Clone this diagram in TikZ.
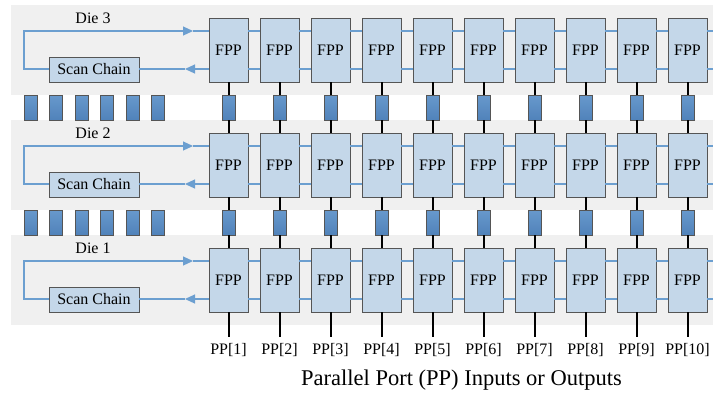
\documentclass[tikz,border=0pt]{standalone}
\usepackage{fontspec}
\setmainfont{Liberation Serif}
\usetikzlibrary{arrows.meta,calc}
\definecolor{diebg}{HTML}{F0F0F0}
\definecolor{fppfill}{HTML}{C4D7E9}
\definecolor{boxedge}{HTML}{555555}
\definecolor{scanblue}{HTML}{6C9FD0}
\definecolor{tsvtop}{HTML}{6899CC}
\definecolor{tsvbot}{HTML}{5082BA}
\tikzset{
  diepanel/.style={fill=diebg,draw=none},
  fppbox/.style={draw=boxedge,line width=0.8pt,fill=fppfill,minimum width=39pt,minimum height=64pt,inner sep=0pt,font=\fontsize{16}{19}\selectfont},
  scanbox/.style={draw=boxedge,line width=0.8pt,fill=fppfill,minimum width=90pt,minimum height=25pt,inner sep=0pt,font=\fontsize{16}{19}\selectfont},
  tsvbox/.style={draw=boxedge,line width=0.8pt,top color=tsvtop,bottom color=tsvbot,minimum width=13pt,minimum height=25pt,inner sep=0pt},
  scanline/.style={draw=scanblue,line width=1.1pt},
  scanarrow/.style={scanline,-{Triangle[length=10pt,width=9pt]}},
  wire/.style={draw=black,line width=2pt},
  lbl/.style={font=\fontsize{16}{19}\selectfont,inner sep=0pt},
}
\begin{document}
\begin{tikzpicture}[x=1pt,y=-1pt]
\useasboundingbox (0,0) rectangle (721,394);
% die panels
\foreach \d/\c in {3/50,2/165,1/280}{
  \fill[diepanel] (11,\c-45) rectangle (713,\c+45);
}
% dies
\foreach \d/\c in {3/50,2/165,1/280}{
  \node[lbl] (die\d) at (93,\c-32) {Die \d};
  \node[scanbox] (sc\d) at (94,\c+19.5) {Scan Chain};
  \foreach \k in {1,...,10}{
    \node[fppbox] (f\d-\k) at ({228.5+51*(\k-1)},\c) {FPP};
  }
  \coordinate (tl\d) at (24,\c-19);
  \coordinate (ta\d) at (193,\c-19);
  \coordinate (ba\d) at (185,\c+19);
  \coordinate (re\d) at (713,\c);
  % scan loop
  \draw[scanarrow] (sc\d.west |- ba\d) -| (tl\d) -- (ta\d);
  \draw[scanline] (ta\d) -- (f\d-1.west |- ta\d);
  \draw[scanarrow] (f\d-1.west |- ba\d) -- (ba\d);
  \draw[scanline] (ba\d) -- (sc\d.east |- ba\d);
  \foreach \k [evaluate=\k as \n using int(\k+1)] in {1,...,9}{
    \draw[scanline] (f\d-\k.east |- ta\d) -- (f\d-\n.west |- ta\d);
    \draw[scanline] (f\d-\k.east |- ba\d) -- (f\d-\n.west |- ba\d);
  }
  \draw[scanline] (f\d-10.east |- ta\d) -- (re\d |- ta\d);
  \draw[scanline] (f\d-10.east |- ba\d) -- (re\d |- ba\d);
}
% TSVs between dies
\foreach \u/\l/\y in {3/2/107.5,2/1/222.5}{
  \foreach \j in {0,...,5}{
    \node[tsvbox] (t\u-s\j) at ({30.5+25.5*\j},\y) {};
  }
  \foreach \k in {1,...,10}{
    \node[tsvbox] (t\u-\k) at ({228.5+51*(\k-1)},\y) {};
    \draw[wire] (f\u-\k.south) -- (t\u-\k.north);
    \draw[wire] (t\u-\k.south) -- (f\l-\k.north);
  }
}
% parallel ports
\foreach \k in {1,...,10}{
  \coordinate (pe\k) at ({228.5+51*(\k-1)},337);
  \draw[wire] (f1-\k.south) -- (pe\k);
  \node[lbl] (pp\k) at ({228.5+51*(\k-1)},350) {PP[\k]};
}
\node[font=\fontsize{22.5}{26}\selectfont,inner sep=0pt] (cap) at (461.5,380) {Parallel Port (PP) Inputs or Outputs};
\end{tikzpicture}
\end{document}
